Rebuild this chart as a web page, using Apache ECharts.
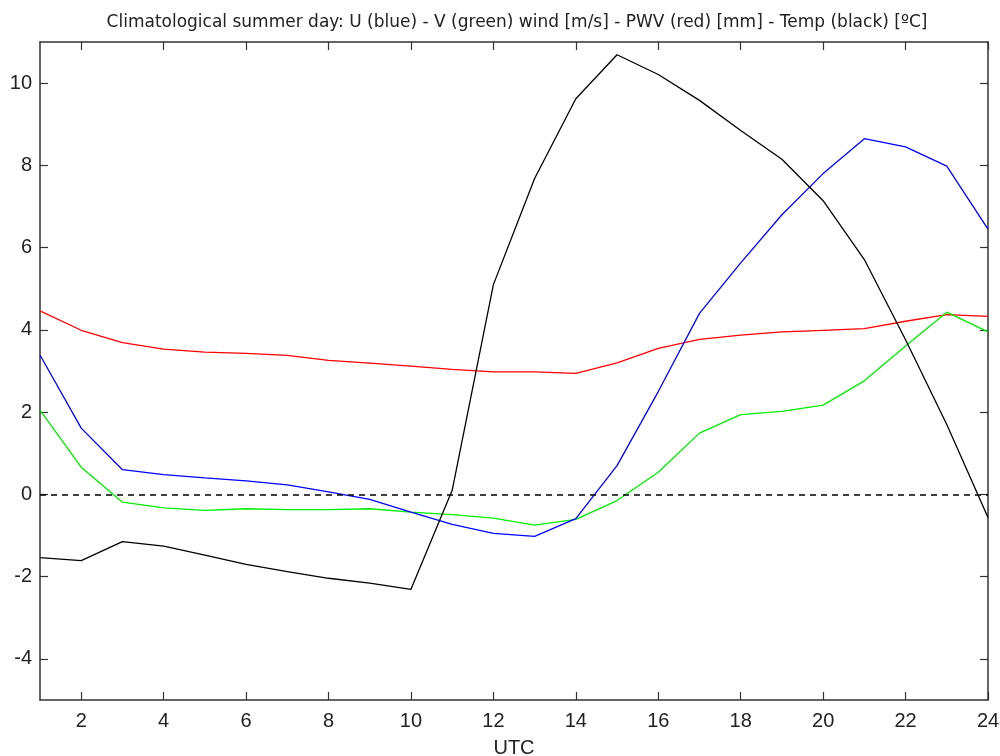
<!DOCTYPE html>
<html>
<head>
<meta charset="utf-8">
<script src="https://cdn.jsdelivr.net/npm/echarts@6/dist/echarts.min.js"></script>
<style>html,body{margin:0;padding:0;background:#fff}#c{width:1000px;height:756px}</style>
</head>
<body>
<div id="c"></div>
<script>
const titleText = 'Climatological summer day: U (blue) - V (green) wind [m/s] - PWV (red) [mm] - Temp (black) [ºC]';
const hours = [1,2,3,4,5,6,7,8,9,10,11,12,13,14,15,16,17,18,19,20,21,22,23,24];
const uWind = [3.39,1.61,0.60,0.48,0.40,0.33,0.23,0.06,-0.12,-0.43,-0.73,-0.95,-1.02,-0.59,0.70,2.50,4.40,5.63,6.80,7.80,8.65,8.45,7.98,6.45];
const vWind = [2.05,0.66,-0.19,-0.33,-0.39,-0.35,-0.37,-0.37,-0.35,-0.43,-0.49,-0.58,-0.75,-0.61,-0.15,0.54,1.49,1.94,2.02,2.17,2.76,3.61,4.43,3.95];
const pwv = [4.46,3.99,3.69,3.53,3.46,3.43,3.38,3.26,3.19,3.12,3.04,2.98,2.98,2.94,3.20,3.55,3.77,3.87,3.95,3.99,4.03,4.21,4.37,4.33];
const temp = [-1.54,-1.61,-1.15,-1.26,-1.48,-1.70,-1.88,-2.04,-2.16,-2.31,0.10,5.10,7.68,9.62,10.69,10.21,9.58,8.85,8.15,7.14,5.71,3.76,1.70,-0.56];
const xTicks = [2,4,6,8,10,12,14,16,18,20,22,24];
const yTicks = [-4,-2,0,2,4,6,8,10];
const xName = 'UTC';

const pairs = arr => hours.map((h, i) => [h, arr[i]]);
const labFont = '"Liberation Sans", Arial, sans-serif';
const titleFont = '"DejaVu Sans", sans-serif';
const lineCol = '#333';

function mkX(pos, labels) {
  return {
    type: 'value', position: pos, min: 1, max: 24,
    name: labels ? xName : '', nameLocation: 'middle', nameGap: 38,
    nameTextStyle: {fontFamily: labFont, fontSize: 20, color: '#222'},
    axisLine: {show: true, onZero: false, lineStyle: {color: lineCol, width: 1.5}},
    axisTick: {show: true, inside: true, length: 8, customValues: xTicks, lineStyle: {color: lineCol, width: 1.2}},
    axisLabel: {show: labels, customValues: xTicks, fontFamily: labFont, fontSize: 20, color: '#222', margin: 11},
    splitLine: {show: false}
  };
}
function mkY(pos, labels) {
  return {
    type: 'value', position: pos, min: -5, max: 11,
    axisLine: {show: true, onZero: false, lineStyle: {color: lineCol, width: 1.5}},
    axisTick: {show: true, inside: true, length: 8, customValues: yTicks, lineStyle: {color: lineCol, width: 1.2}},
    axisLabel: {show: labels, customValues: yTicks, fontFamily: labFont, fontSize: 20, color: '#222', margin: 8},
    splitLine: {show: false}
  };
}
function mkLine(name, arr, color, extra) {
  return Object.assign({
    name, type: 'line', data: pairs(arr), showSymbol: false, symbol: 'none',
    lineStyle: {color, width: 1.3}, itemStyle: {color}, animation: false, z: 3
  }, extra || {});
}

const chart = echarts.init(document.getElementById('c'));
chart.setOption({
  animation: false,
  backgroundColor: '#fff',
  title: {text: titleText, left: 512, top: 9, textAlign: 'center',
    textStyle: {fontFamily: titleFont, fontSize: 17, fontWeight: 'normal', color: '#222'}},
  grid: {left: 40, right: 12, top: 42, bottom: 56, outerBoundsMode: 'none', containLabel: false},
  xAxis: [mkX('bottom', true), mkX('top', false)],
  yAxis: [mkY('left', true), mkY('right', false)],
  series: [
    mkLine('PWV', pwv, '#ff0000', {
      markLine: {silent: true, symbol: 'none', label: {show: false},
        lineStyle: {color: '#000', type: [6, 5], width: 1.5},
        data: [{yAxis: 0}]}
    }),
    mkLine('V', vWind, '#00ee00'),
    mkLine('U', uWind, '#0000ff'),
    mkLine('Temp', temp, '#000000')
  ]
});
</script>
</body>
</html>
